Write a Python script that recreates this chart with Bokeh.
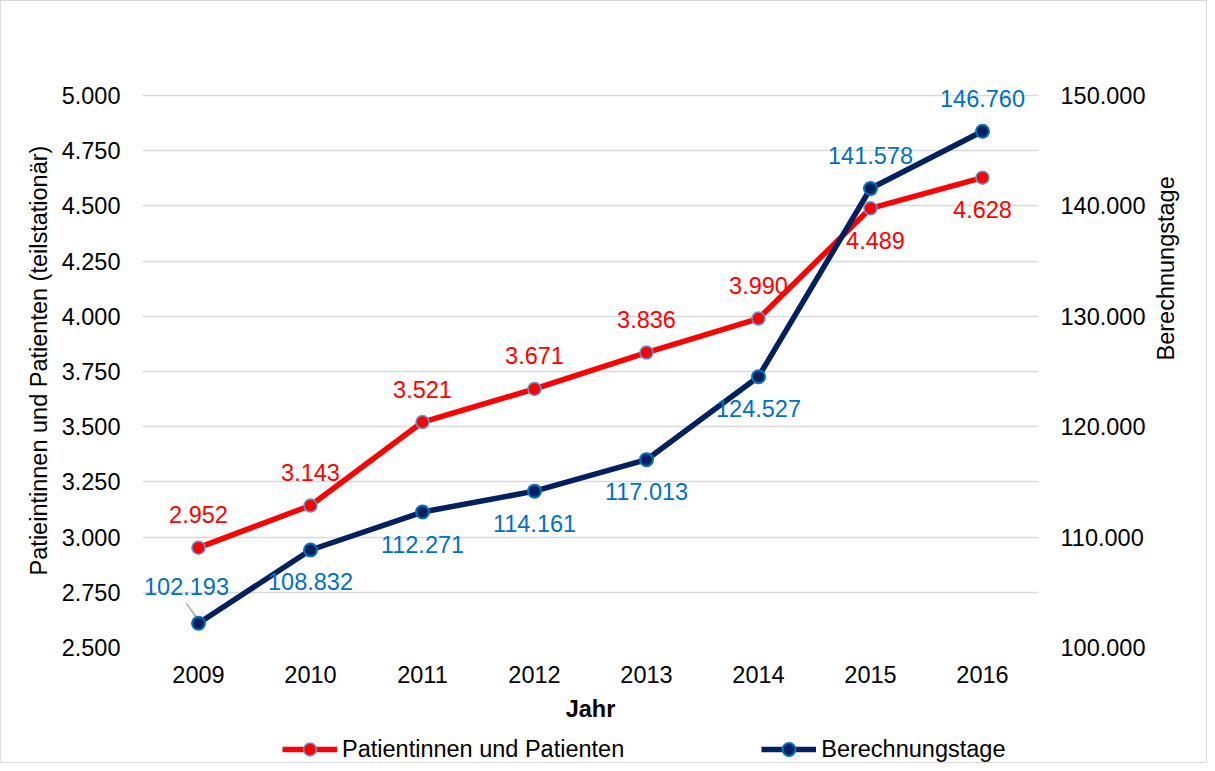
import math
from bokeh.plotting import figure
from bokeh.layouts import column
from bokeh.models import (Range1d, LinearAxis, FixedTicker, CustomJSTickFormatter,
                          ColumnDataSource, LabelSet, Legend, LegendItem)
from bokeh.core.properties import value
from bokeh.transform import dodge
from bokeh.embed import file_html
from bokeh.resources import INLINE

# ---------------- data ----------------
years = ["2009", "2010", "2011", "2012", "2013", "2014", "2015", "2016"]
patients = [2952, 3143, 3521, 3671, 3836, 3990, 4489, 4628]
days = [102193, 108832, 112271, 114161, 117013, 124527, 141578, 146760]
left_ticks = [2500, 2750, 3000, 3250, 3500, 3750, 4000, 4250, 4500, 4750, 5000]
right_ticks = [100000, 110000, 120000, 130000, 140000, 150000]
patients_name = "Patientinnen und Patienten"
days_name = "Berechnungstage"
left_title = "Patieintinnen und Patienten (teilstationär)"
x_title = "Jahr"

# ---------------- style ----------------
FONT = "Liberation Sans"
FS = "23.5px"
RED = "#FF0000"
NAVY = "#002060"
BLUE_LBL = "#0070C0"
GRID = "#D9D9D9"
patients_label_pos = ["above"] * 6 + ["below"] * 2
days_label_pos = ["above"] + ["below"] * 5 + ["above"] * 2
patients_dx = [0, 0, 0, 0, 0, 0, 5, 0]
days_dx = [-12, 0, 0, 0, 0, 0, 0, 0]
days_dy_extra = [4, 0, 0, 0, 0, 0, 0, 0]
OFF = {"above": 33, "below": -32}

W = 1205
GRID_PX = 552      # pixel height between lowest and highest tick
TOP_PAD = 22       # extra frame space above the top tick (so labels are not clipped)


def de(v):
    return f"{v:,}".replace(",", ".")


def padded_end(ticks):
    span = ticks[-1] - ticks[0]
    return ticks[-1] + span * TOP_PAD / GRID_PX


fmt_code = "return Math.round(tick).toString().replace(/\\B(?=(\\d{3})+(?!\\d))/g, '.');"

src_p = ColumnDataSource(dict(
    x=years, y=patients, t=[de(v) for v in patients],
    dy=[OFF[k] for k in patients_label_pos], dx=patients_dx))
src_d = ColumnDataSource(dict(
    x=years, y=days, t=[de(v) for v in days],
    dy=[OFF[k] + e for k, e in zip(days_label_pos, days_dy_extra)], dx=days_dx))

p = figure(x_range=years, y_range=Range1d(left_ticks[0], padded_end(left_ticks)),
           width=W, height=726, output_backend="svg", toolbar_location=None,
           min_border_left=141, min_border_right=168, min_border_top=94 - TOP_PAD,
           min_border_bottom=80)
p.extra_y_ranges = {"right": Range1d(right_ticks[0], padded_end(right_ticks))}
p.outline_line_color = None

p.xgrid.visible = False
p.ygrid.ticker = FixedTicker(ticks=left_ticks)
p.ygrid.grid_line_color = GRID
p.ygrid.grid_line_width = 1.5

def style_axis(ax):
    ax.axis_line_color = None
    ax.major_tick_line_color = None
    ax.minor_tick_line_color = None
    ax.major_tick_out = 0
    ax.major_tick_in = 0
    ax.major_label_text_font = FONT
    ax.major_label_text_font_size = FS
    ax.major_label_text_color = "black"
    ax.axis_label_text_font = FONT
    ax.axis_label_text_font_size = FS
    ax.axis_label_text_color = "black"
    ax.axis_label_text_font_style = "normal"

ly = p.yaxis[0]
style_axis(ly)
ly.ticker = FixedTicker(ticks=left_ticks)
ly.formatter = CustomJSTickFormatter(code=fmt_code)
ly.axis_label = left_title
ly.major_label_standoff = 22
ly.axis_label_standoff = 7

ry = LinearAxis(y_range_name="right", ticker=FixedTicker(ticks=right_ticks),
                formatter=CustomJSTickFormatter(code=fmt_code), axis_label=days_name)
style_axis(ry)
ry.major_label_standoff = 22
ry.axis_label_standoff = 18
ry.axis_label_orientation = math.pi / 2
p.add_layout(ry, "right")

xa = p.xaxis[0]
style_axis(xa)
xa.axis_label = x_title
xa.axis_label_text_font_style = "bold"
xa.major_label_standoff = 18
xa.axis_label_standoff = 10

# leader line for 2009 label
lead = ColumnDataSource(dict(x=years[:1], y0=[days[0] + 1800], y1=[days[0] + 300]))
p.segment(x0=dodge("x", -0.11, range=p.x_range), y0="y0", x1="x", y1="y1",
          source=lead, y_range_name="right", line_color="#A6A6A6", line_width=1.5)

LINE_P = dict(line_color=RED, line_width=5.5)
MARK_P = dict(size=13, fill_color=RED, line_color="#5B9BD5", line_width=1.5)
LINE_D = dict(line_color=NAVY, line_width=5.5)
MARK_D = dict(size=13, fill_color=NAVY, line_color=BLUE_LBL, line_width=2)

p.line("x", "y", source=src_p, **LINE_P)
p.scatter("x", "y", source=src_p, **MARK_P)
p.line("x", "y", source=src_d, y_range_name="right", **LINE_D)
p.scatter("x", "y", source=src_d, y_range_name="right", **MARK_D)

p.add_layout(LabelSet(x="x", y="y", text="t", source=src_p, x_offset="dx", y_offset="dy",
                      text_align="center", text_baseline="middle", text_color=RED,
                      text_font=value(FONT), text_font_size=value(FS)))
p.add_layout(LabelSet(x="x", y="y", text="t", source=src_d, x_offset="dx", y_offset="dy",
                      y_range_name="right",
                      text_align="center", text_baseline="middle", text_color=BLUE_LBL,
                      text_font=value(FONT), text_font_size=value(FS)))

# ---------------- legend strip (own figure, so it is not clipped) ----------------
# Same series are attached here, but the y range lies far outside the data, so only
# the legend swatches become visible.
lf = figure(width=W, height=35, output_backend="svg", toolbar_location=None,
            x_range=years, y_range=Range1d(0, 1),
            x_axis_location=None, y_axis_location=None, min_border=0)
lf.outline_line_color = None
lf.grid.visible = False
e1 = lf.line("x", "y", source=src_p, **LINE_P)
e2 = lf.scatter("x", "y", source=src_p, **MARK_P)
e3 = lf.line("x", "y", source=src_d, **LINE_D)
e4 = lf.scatter("x", "y", source=src_d, **MARK_D)
legend = Legend(items=[LegendItem(label=patients_name, renderers=[e1, e2]),
                       LegendItem(label=days_name, renderers=[e3, e4])],
                orientation="horizontal", location=(140, -3), margin=0, padding=0,
                glyph_width=55, glyph_height=32, label_standoff=5, spacing=137,
                label_text_font=FONT, label_text_font_size=FS, label_text_color="black",
                label_text_baseline="middle",
                border_line_color=None, background_fill_alpha=0)
lf.add_layout(legend, "center")

layout = column(p, lf, spacing=0)
layout.styles = {"border": "1px solid #D9D9D9"}

open("out.html", "w").write(file_html(layout, INLINE))
